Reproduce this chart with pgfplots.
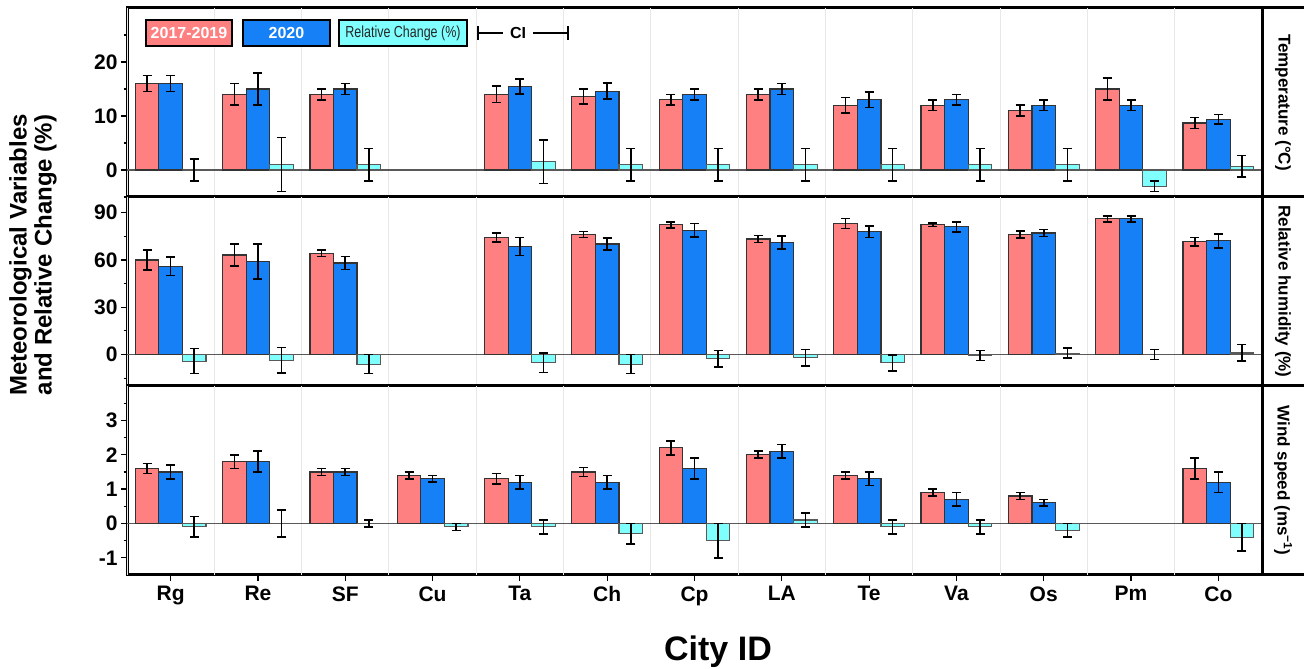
\documentclass[border=0pt]{standalone}
\usepackage{fontspec}
\setmainfont{Liberation Sans}
\usepackage{pgfplots}
\usepackage{pgfplotstable}
\pgfplotsset{compat=1.18}

\definecolor{cred}{RGB}{255,128,128}
\definecolor{cblue}{RGB}{22,128,246}
\definecolor{ccyan}{RGB}{128,255,255}

% x: city index, a/ae: 2017-2019 mean/CI, b/be: 2020 mean/CI, c/ce: relative change/CI
\pgfplotstableread{
x a ae b be c ce
0 16 1.5 16 1.5 0 2
1 14 2 15 3 1 5
2 14 1 15 1 1 3
4 14 1.5 15.5 1.4 1.5 4
5 13.6 1.4 14.6 1.5 1 3
6 13 1 14 1 1 3
7 14 1 15 1 1 3
8 12 1.4 13 1.4 1 3
9 12 1 13 1 1 3
10 11 1 12 1 1 3
11 15 2 12 1 -3 1
12 8.7 1 9.4 0.9 0.7 2
}\temp

\pgfplotstableread{
x a ae b be c ce
0 60 6.4 56 5.8 -4.2 7.9
1 63.2 7 59 11 -3.6 8.1
2 64.2 2.1 58.1 4.1 -6.1 6
4 74.3 2.8 68.6 5.8 -5.3 6.1
5 76.2 2 70.1 3.9 -6.1 6
6 82.3 2 78.9 4.2 -2.7 5.3
7 73.3 2.2 71.2 4.2 -2.1 5.3
8 83.2 3.2 77.9 3.5 -5.3 5
9 82.3 1 81.1 3.2 -0.6 3.2
10 76.2 2.1 77.1 2.2 0.8 3.2
11 86.1 2 86.1 2 0 3.2
12 71.6 2.7 72.2 4.4 1 5.3
}\hum

\pgfplotstableread{
x a ae b be c ce
0 1.6 0.15 1.5 0.2 -0.1 0.3
1 1.8 0.2 1.8 0.3 0 0.4
2 1.5 0.1 1.5 0.1 0 0.1
3 1.4 0.1 1.3 0.1 -0.1 0.1
4 1.3 0.15 1.2 0.2 -0.1 0.2
5 1.5 0.13 1.2 0.2 -0.3 0.3
6 2.2 0.2 1.6 0.3 -0.5 0.5
7 2.0 0.1 2.1 0.2 0.1 0.2
8 1.4 0.1 1.3 0.2 -0.1 0.2
9 0.9 0.1 0.7 0.2 -0.1 0.2
10 0.8 0.1 0.6 0.1 -0.2 0.2
12 1.6 0.3 1.2 0.3 -0.4 0.4
}\wind

\pgfplotsset{
  panel/.style={
    scale only axis, width=1135pt, height=189pt,
    xmin=-0.5, xmax=12.5,
    axis line style={line width=3pt, black},
    tick align=outside, xtick pos=bottom, ytick pos=left,
    major tick length=6pt, minor tick length=3.5pt,
    every tick/.append style={black, line width=1.2pt},
    /pgf/number format/assume math mode=true,
    tick label style={font=\fontsize{21}{21}\selectfont\bfseries},
    extra x ticks={-0.5,0.5,1.5,2.5,3.5,4.5,5.5,6.5,7.5,8.5,9.5,10.5,11.5,12.5},
    extra x tick labels={},
    extra x tick style={xmajorgrids=true, major tick length=0pt,
      major grid style={black!9, line width=1pt}},
  },
  redbar/.style={ybar, bar width=0.27, bar shift=0, fill=cred, draw=black!80, line width=1.2pt},
  bluebar/.style={ybar, bar width=0.27, bar shift=0, fill=cblue, draw=black!80, line width=1.2pt},
  cyanbar/.style={ybar, bar width=0.27, bar shift=0, fill=ccyan, draw=black!65, line width=1.2pt},
  eb/.style={error bars/.cd, y dir=both, y explicit, error mark=|,
    error bar style={line width=1.6pt, black, solid},
    error mark options={line width=1.6pt, mark size=4.5pt, black, solid}},
}

\begin{document}
\begin{tikzpicture}[x=1pt,y=1pt]
\path[use as bounding box] (0,0) rectangle (1304,669);

% ---------- Top: temperature
\begin{axis}[panel, at={(127pt,472pt)}, anchor=south west,
  ymin=-5, ymax=30, ytick={0,10,20}, minor ytick={-5,5,15,25},
  xtick=\empty]
\addplot[forget plot, draw=black!65, line width=1.3pt] coordinates {(-0.5,0) (12.5,0)};
\addplot[redbar, eb] table[x expr=\thisrow{x}-0.27, y=a, y error=ae] {\temp};
\addplot[bluebar, eb] table[x=x, y=b, y error=be] {\temp};
\addplot[cyanbar, eb] table[x expr=\thisrow{x}+0.27, y=c, y error=ce] {\temp};
\end{axis}

% ---------- Middle: relative humidity
\begin{axis}[panel, at={(127pt,283pt)}, anchor=south west,
  ymin=-20, ymax=100, ytick={0,30,60,90}, minor ytick={-15,15,45,75},
  xtick=\empty]
\addplot[forget plot, draw=black!65, line width=1.3pt] coordinates {(-0.5,0) (12.5,0)};
\addplot[redbar, eb] table[x expr=\thisrow{x}-0.27, y=a, y error=ae] {\hum};
\addplot[bluebar, eb] table[x=x, y=b, y error=be] {\hum};
\addplot[cyanbar, eb] table[x expr=\thisrow{x}+0.27, y=c, y error=ce] {\hum};
\end{axis}

% ---------- Bottom: wind speed
\begin{axis}[panel, at={(127pt,94pt)}, anchor=south west,
  ymin=-1.5, ymax=4, ytick={-1,0,1,2,3}, minor ytick={-0.5,0.5,1.5,2.5,3.5},
  xtick={0,...,12},
  xticklabels={Rg,Re,SF,Cu,Ta,Ch,Cp,LA,Te,Va,Os,Pm,Co},
  xticklabel style={yshift=-2pt}]
\addplot[forget plot, draw=black!65, line width=1.3pt] coordinates {(-0.5,0) (12.5,0)};
\addplot[redbar, eb] table[x expr=\thisrow{x}-0.27, y=a, y error=ae] {\wind};
\addplot[bluebar, eb] table[x=x, y=b, y error=be] {\wind};
\addplot[cyanbar, eb] table[x expr=\thisrow{x}+0.27, y=c, y error=ce] {\wind};
\end{axis}

% ---------- right strip
\foreach \yy in {94,283,472,661} {\draw[line width=3pt] (1262,\yy) -- (1306,\yy);}
\draw[line width=3pt] (1262,94) -- (1262,661);
\node[rotate=-90, font=\fontsize{17}{17}\selectfont\bfseries] at (1283,566.5) {Temperature (°C)};
\node[rotate=-90, font=\fontsize{17}{17}\selectfont\bfseries] at (1283,377.5) {Relative humidity (\%)};
\node[rotate=-90, font=\fontsize{17}{17}\selectfont\bfseries] at (1283,188.5) {Wind speed (ms\textsuperscript{−1})};

% ---------- axis titles
\node[rotate=90, align=center, font=\fontsize{24}{25}\selectfont\bfseries] at (33,414) {Meteorological Variables\\and Relative Change (\%)};
\node[anchor=base, font=\fontsize{34}{34}\selectfont\bfseries] at (718,8) {City ID};

% ---------- legend
\node[draw=black, line width=2.5pt, fill=cred, text=white, minimum width=86pt, minimum height=26pt, inner sep=0pt,
  font=\fontsize{16}{16}\selectfont\bfseries] at (189,636) {2017-2019};
\node[draw=black, line width=2.5pt, fill=cblue, text=white, minimum width=87pt, minimum height=26pt, inner sep=0pt,
  font=\fontsize{16}{16}\selectfont\bfseries] at (286.5,636) {2020};
\node[draw=black, line width=2.5pt, fill=ccyan, text=black!85, minimum width=128pt, minimum height=26pt, inner sep=0pt,
  font=\fontsize{16}{16}\selectfont] at (403,636) {\scalebox{0.78}[1]{Relative Change (\%)}};
\draw[line width=1.8pt] (478,636) -- (503,636);
\draw[line width=1.8pt] (478,629) -- (478,643);
\draw[line width=1.8pt] (533,636) -- (568,636);
\draw[line width=1.8pt] (568,629) -- (568,643);
\node[font=\fontsize{16}{16}\selectfont\bfseries] at (518,636) {CI};
\end{tikzpicture}
\end{document}
